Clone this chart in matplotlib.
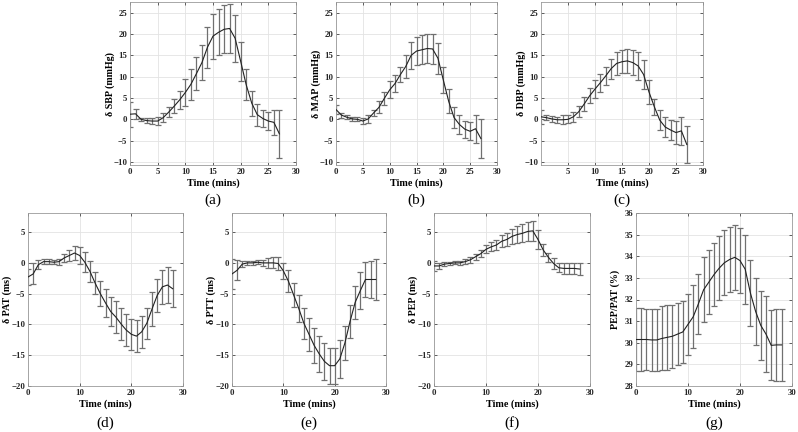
import matplotlib
matplotlib.use("Agg")
import matplotlib.pyplot as plt
import numpy as np

# ---- data ----
t_top = list(range(0, 28))
t_bot = list(range(0, 29))

sbp = [1.2, 1.3, 0.0, -0.3, -0.4, -0.4, 0.4, 1.7, 3.1, 4.6, 6.3, 8.2, 10.7, 13.3,
       16.9, 19.5, 20.4, 21.1, 21.3, 19.0, 13.6, 8.1, 3.8, 1.1, 0.2, -0.4, -0.7, -3.4]
sbp_err = [2.9, 1.2, 0.4, 0.5, 0.6, 0.9, 1.0, 1.2, 1.6, 2.1, 3.2, 3.7, 3.8, 4.1,
           4.8, 5.3, 5.4, 5.6, 5.7, 5.5, 4.6, 3.6, 2.9, 2.6, 2.1, 2.2, 3.0, 5.6]

map_ = [2.3, 1.0, 0.5, 0.1, 0.0, -0.4, 0.1, 1.5, 2.8, 4.9, 6.9, 8.4, 10.5, 12.4,
        15.0, 16.0, 16.3, 16.6, 16.5, 14.3, 9.2, 4.2, 0.4, -1.2, -2.3, -2.8, -2.2, -4.5]
map_err = [1.0, 0.6, 0.5, 0.45, 0.5, 0.65, 0.9, 0.7, 1.4, 1.6, 2.0, 2.0, 1.8, 2.6,
           3.1, 3.3, 3.4, 3.5, 3.6, 3.6, 3.1, 2.8, 2.5, 2.2, 2.0, 2.1, 3.3, 4.6]

dbp = [0.6, 0.4, 0.1, -0.1, -0.1, 0.0, 0.6, 1.8, 3.6, 5.5, 7.1, 8.6, 10.2, 11.9,
       13.1, 13.5, 13.7, 13.3, 12.5, 10.5, 6.4, 2.9, -0.2, -1.8, -2.5, -3.1, -2.7, -5.9]
dbp_err = [1.6, 0.65, 0.65, 0.7, 1.05, 0.95, 1.15, 1.3, 1.55, 1.75, 2.05, 2.1, 2.05, 2.35,
           2.7, 2.75, 2.85, 2.9, 3.3, 3.45, 2.8, 1.9, 2.4, 2.4, 2.3, 2.65, 3.3, 4.35]

pat = [-2.3, -1.8, -0.3, 0.2, 0.2, 0.1, 0.2, 0.8, 1.2, 1.6, 1.2, 0.1, -1.4, -3.3,
       -5.0, -6.5, -7.9, -8.8, -9.9, -10.9, -11.6, -11.9, -11.2, -9.8, -7.5, -5.3, -3.9, -3.6, -4.2]
pat_err = [1.3, 1.7, 0.7, 0.35, 0.35, 0.35, 0.5, 0.7, 0.9, 1.2, 1.45, 1.6, 1.75, 1.8,
           2.05, 2.3, 2.4, 2.55, 2.6, 2.65, 2.55, 2.65, 2.55, 2.55, 2.7, 2.7, 2.75, 2.85, 3.0]

ptt = [-1.8, -1.2, -0.2, 0.0, 0.0, 0.1, 0.0, 0.0, 0.0, -0.1, -1.3, -3.0, -5.2, -7.4,
       -9.8, -11.6, -13.4, -14.8, -16.0, -16.7, -16.7, -15.6, -13.0, -9.5, -6.4, -4.5, -2.7, -2.7, -2.7]
ptt_err = [2.4, 1.65, 0.5, 0.35, 0.35, 0.35, 0.45, 0.8, 0.9, 1.1, 1.35, 1.8, 1.9, 2.25,
           2.5, 2.7, 2.9, 2.95, 3.0, 2.9, 2.9, 3.05, 2.8, 2.65, 2.7, 3.0, 2.85, 3.05, 3.25]

pep = [-0.5, -0.5, -0.2, -0.1, 0.0, 0.0, 0.2, 0.5, 1.0, 1.5, 2.2, 2.6, 2.9, 3.5,
       3.8, 4.3, 4.6, 4.8, 5.1, 5.2, 3.8, 2.1, 0.9, -0.1, -0.8, -0.9, -0.9, -0.9, -1.0]
pep_err = [0.85, 0.45, 0.3, 0.25, 0.25, 0.3, 0.35, 0.45, 0.5, 0.6, 0.65, 0.75, 0.8, 0.95,
           1.0, 1.2, 1.35, 1.45, 1.55, 1.65, 1.5, 0.95, 0.75, 0.9, 0.75, 0.85, 0.85, 0.85, 0.9]

ratio = [30.15, 30.15, 30.15, 30.13, 30.13, 30.2, 30.25, 30.3, 30.4, 30.5, 30.85, 31.2, 31.8, 32.45,
         32.8, 33.15, 33.45, 33.7, 33.85, 33.95, 33.8, 33.4, 32.3, 31.45, 30.8, 30.4, 29.88, 29.9, 29.9]
ratio_err = [1.45, 1.45, 1.43, 1.44, 1.44, 1.48, 1.5, 1.45, 1.45, 1.42, 1.4, 1.45, 1.4, 1.5,
             1.48, 1.47, 1.47, 1.5, 1.5, 1.5, 1.5, 1.6, 1.52, 1.55, 1.6, 1.75, 1.62, 1.65, 1.68]

W, H = 798, 432
fig = plt.figure(figsize=(W / 100, H / 100), dpi=100)

plt.rcParams['font.family'] = ['Liberation Serif', 'DejaVu Serif']

def px_axes(l, r, top, bot):
    return fig.add_axes([l / W, 1 - bot / H, (r - l) / W, (bot - top) / H])

def panel(ax, t, y, e, ylabel, xticks, yticks, xlim, ylim, ylab_off):
    ax.errorbar(t, y, yerr=e, fmt='none', ecolor='#707070', elinewidth=0.9,
                capsize=2.3, capthick=0.9, zorder=2)
    ax.plot(t, y, color='#222222', lw=0.8, zorder=3)
    ax.set_xlim(*xlim)
    ax.set_ylim(*ylim)
    ax.set_xticks(xticks)
    ax.set_yticks(yticks)
    ax.grid(True, color='#e3e3e3', lw=0.6, zorder=0)
    ax.set_axisbelow(True)
    ax.tick_params(direction='in', length=2.0, width=0.5, top=True, right=True,
                   labelsize=6.3, pad=2, colors='#262626')
    for lab in ax.get_xticklabels() + ax.get_yticklabels():
        lab.set_fontweight('bold')
    for s in ax.spines.values():
        s.set_color('#9a9a9a')
        s.set_linewidth(0.6)
    ax.set_xlabel('Time (mins)', fontsize=7.3, fontweight='bold', labelpad=2)
    ax.set_ylabel(ylabel, fontsize=7.2, fontweight='bold')
    wpx = ax.get_position().width * W
    ax.yaxis.set_label_coords(-ylab_off / wpx, 0.5)

top_y = (-10.7, 27.5)
top_yt = [-10, -5, 0, 5, 10, 15, 20, 25]
bot_y = (-20, 8.1)
bot_yt = [-20, -15, -10, -5, 0, 5]

axa = px_axes(130, 296, 2, 165)
panel(axa, t_top, sbp, sbp_err, 'δ SBP (mmHg)', [0, 5, 10, 15, 20, 25, 30], top_yt, (0, 30), top_y, 15)
axb = px_axes(336, 497, 2, 165)
panel(axb, t_top, map_, map_err, 'δ MAP (mmHg)', [0, 5, 10, 15, 20, 25, 30], top_yt, (0, 30), top_y, 15)
axc = px_axes(541, 703, 2, 165)
panel(axc, t_top, dbp, dbp_err, 'δ DBP (mmHg)', [5, 10, 15, 20, 25, 30], top_yt, (0, 30), top_y, 15)

axd = px_axes(28, 183, 213, 386)
panel(axd, t_bot, pat, pat_err, 'δ PAT (ms)', [0, 10, 20, 30], bot_yt, (0, 30), bot_y, 16)
axe = px_axes(232, 386, 213, 386)
panel(axe, t_bot, ptt, ptt_err, 'δ PTT (ms)', [0, 10, 20, 30], bot_yt, (0, 30), bot_y, 16)
axf = px_axes(434, 590, 213, 386)
panel(axf, t_bot, pep, pep_err, 'δ PEP (ms)', [0, 10, 20, 30], bot_yt, (0, 30), bot_y, 16)
axg = px_axes(636, 792, 213, 386)
panel(axg, t_bot, ratio, ratio_err, 'PEP/PAT (%)', [0, 10, 20, 30],
      [28, 29, 30, 31, 32, 33, 34, 35, 36], (0, 30), (28, 36), 16)

# captions
for ax, lab, y in [(axa, '(a)', 200), (axb, '(b)', 200), (axc, '(c)', 200),
                   (axd, '(d)', 423), (axe, '(e)', 423), (axf, '(f)', 423), (axg, '(g)', 423)]:
    pos = ax.get_position()
    fig.text(pos.x0 + pos.width / 2, 1 - y / H, lab, ha='center', va='center', fontsize=11)

fig.savefig('out.png', dpi=100)
